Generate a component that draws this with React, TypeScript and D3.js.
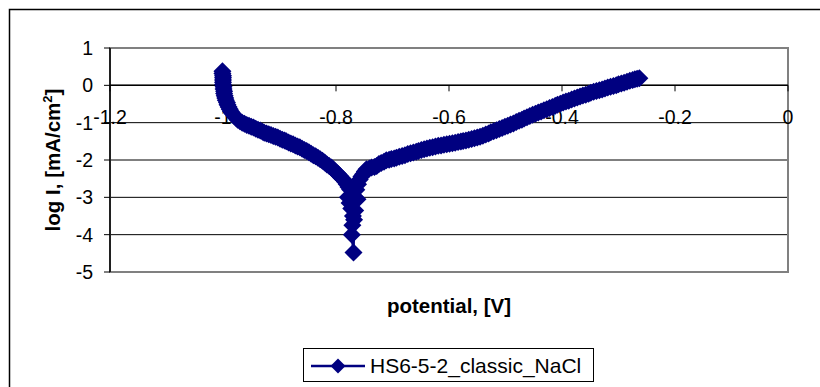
import React from "react";
import * as d3 from "d3";

// cathodic branch (scan from -1.0 V towards corrosion potential)
const cathodicE: number[] = [
  -1.001, -1.001, -1.0, -1.0, -1.0, -1.0, -1.0, -0.999, -0.999, -0.998,
  -0.998, -0.997, -0.996, -0.995, -0.993, -0.992, -0.99, -0.988, -0.986, -0.983,
  -0.98, -0.977, -0.974, -0.97, -0.966, -0.962, -0.958, -0.954, -0.95, -0.946,
  -0.942, -0.938, -0.934, -0.93, -0.927, -0.923, -0.919, -0.915, -0.911, -0.907,
  -0.903, -0.899, -0.895, -0.891, -0.888, -0.884, -0.88, -0.876, -0.872, -0.868,
  -0.864, -0.86, -0.856, -0.852, -0.848, -0.844, -0.84, -0.836, -0.832, -0.828,
  -0.824, -0.82, -0.816, -0.812, -0.808, -0.805, -0.802, -0.799, -0.796, -0.793,
  -0.79, -0.787, -0.784, -0.781, -0.778, -0.775,
];
const cathodicLogI: number[] = [
  0.38, 0.32, 0.26, 0.2, 0.14, 0.08, 0.02, -0.04, -0.1, -0.16,
  -0.22, -0.28, -0.34, -0.4, -0.46, -0.52, -0.58, -0.64, -0.7, -0.76,
  -0.82, -0.87, -0.92, -0.96, -1.0, -1.03, -1.06, -1.08, -1.11, -1.13,
  -1.16, -1.19, -1.21, -1.24, -1.27, -1.29, -1.31, -1.33, -1.36, -1.38,
  -1.4, -1.43, -1.46, -1.48, -1.5, -1.53, -1.56, -1.58, -1.61, -1.64,
  -1.66, -1.7, -1.73, -1.76, -1.79, -1.83, -1.87, -1.9, -1.94, -1.98,
  -2.02, -2.07, -2.12, -2.16, -2.2, -2.25, -2.3, -2.34, -2.38, -2.43,
  -2.48, -2.52, -2.58, -2.65, -2.72, -2.79,
];
// scatter around the corrosion potential
const bottomE: number[] = [-0.772, -0.779, -0.776, -0.771, -0.762, -0.766, -0.773, -0.77, -0.771, -0.772, -0.769];
const bottomLogI: number[] = [-2.95, -3.0, -3.15, -3.1, -3.05, -3.35, -3.3, -3.5, -3.75, -4.0, -4.48];
// anodic branch
const anodicE: number[] = [
  -0.768, -0.766, -0.764, -0.761, -0.758, -0.755, -0.752, -0.749, -0.746, -0.741,
  -0.737, -0.732, -0.728, -0.724, -0.72, -0.715, -0.711, -0.706, -0.702, -0.697,
  -0.693, -0.688, -0.683, -0.678, -0.673, -0.668, -0.663, -0.658, -0.654, -0.649,
  -0.644, -0.639, -0.634, -0.629, -0.624, -0.619, -0.614, -0.609, -0.604, -0.599,
  -0.594, -0.589, -0.584, -0.579, -0.575, -0.57, -0.565, -0.56, -0.555, -0.55,
  -0.545, -0.54, -0.535, -0.53, -0.526, -0.521, -0.516, -0.511, -0.506, -0.501,
  -0.496, -0.491, -0.486, -0.481, -0.476, -0.471, -0.467, -0.462, -0.457, -0.452,
  -0.447, -0.442, -0.437, -0.432, -0.427, -0.422, -0.417, -0.412, -0.408, -0.403,
  -0.398, -0.393, -0.388, -0.383, -0.378, -0.373, -0.368, -0.363, -0.358, -0.353,
  -0.349, -0.344, -0.339, -0.334, -0.329, -0.324, -0.319, -0.314, -0.309, -0.304,
  -0.3, -0.295, -0.29, -0.285, -0.28, -0.275, -0.271, -0.267, -0.263,
];
const anodicLogI: number[] = [
  -3.6, -3.0, -2.8, -2.65, -2.52, -2.44, -2.38, -2.31, -2.25, -2.23,
  -2.2, -2.19, -2.16, -2.11, -2.08, -2.05, -2.01, -1.99, -1.97, -1.96,
  -1.94, -1.91, -1.89, -1.87, -1.84, -1.82, -1.8, -1.78, -1.76, -1.73,
  -1.71, -1.69, -1.67, -1.66, -1.64, -1.62, -1.61, -1.59, -1.58, -1.565,
  -1.55, -1.535, -1.52, -1.505, -1.49, -1.475, -1.46, -1.44, -1.42, -1.4,
  -1.38, -1.35, -1.32, -1.29, -1.26, -1.23, -1.2, -1.17, -1.14, -1.11,
  -1.08, -1.05, -1.02, -0.985, -0.95, -0.92, -0.89, -0.855, -0.82, -0.79,
  -0.76, -0.73, -0.7, -0.67, -0.64, -0.61, -0.58, -0.55, -0.52, -0.49,
  -0.46, -0.435, -0.41, -0.38, -0.35, -0.325, -0.3, -0.275, -0.25, -0.225,
  -0.2, -0.175, -0.15, -0.13, -0.11, -0.085, -0.06, -0.04, -0.02, 0.005,
  0.03, 0.05, 0.07, 0.095, 0.12, 0.14, 0.16, 0.175, 0.19,
];

const xTicks: number[] = [-1.2, -1, -0.8, -0.6, -0.4, -0.2, 0];
const yTicks: number[] = [1, 0, -1, -2, -3, -4, -5];
const seriesName = "HS6-5-2_classic_NaCl";
const xTitle = "potential, [V]";

const NAVY = "#000080";
const FONT = "'Liberation Sans', Arial, sans-serif";
const diamond = "M0,-9L9,0L0,9L-9,0Z";
const legendDiamond = "M0,-7.5L7.5,0L0,7.5L-7.5,0Z";

export default function App() {
  const left = 110, right = 788, top = 48, bottom = 272;
  const x = d3.scaleLinear().domain([-1.2, 0]).range([left, right]);
  const y = d3.scaleLinear().domain([-5, 1]).range([bottom, top]);
  const E = [...cathodicE, ...bottomE, ...anodicE];
  const L = [...cathodicLogI, ...bottomLogI, ...anodicLogI];
  const pts = E.map((p, i) => [p, L[i]] as [number, number]);
  const line = d3
    .line<[number, number]>()
    .x((d) => x(d[0]))
    .y((d) => y(d[1]));
  const y0 = y(0);

  return (
    <svg
      width={820}
      height={387}
      style={{ position: "absolute", left: 0, top: 0, background: "#fff" }}
      fontFamily={FONT}
    >
      <rect x={0} y={0} width={820} height={387} fill="#fff" />
      <rect x={9.5} y={9.5} width={830} height={400} fill="none" stroke="#000" strokeWidth={1.5} />
      {yTicks.map((t) => (
        <line key={"g" + t} x1={left} x2={right} y1={y(t)} y2={y(t)} stroke="#000" strokeWidth={1} />
      ))}
      <rect x={left} y={top} width={right - left} height={bottom - top} fill="none" stroke="#808080" strokeWidth={2} />
      <line x1={left} x2={left} y1={top} y2={bottom} stroke="#000" strokeWidth={1.5} />
      {yTicks.map((t) => (
        <g key={"yt" + t}>
          <line x1={left - 6} x2={left} y1={y(t)} y2={y(t)} stroke="#000" strokeWidth={1} />
          <text x={93} y={y(t) + 7} textAnchor="end" fontSize={19.5}>
            {t}
          </text>
        </g>
      ))}
      <line x1={left} x2={right} y1={y0} y2={y0} stroke="#000" strokeWidth={1.5} />
      {xTicks.map((t) => (
        <g key={"xt" + t}>
          <line x1={x(t)} x2={x(t)} y1={y0} y2={y0 + 6} stroke="#000" strokeWidth={1} />
          <text x={x(t)} y={124} textAnchor="middle" fontSize={19.5}>
            {t}
          </text>
        </g>
      ))}
      <path d={line(pts) ?? ""} fill="none" stroke={NAVY} strokeWidth={2.5} />
      {pts.map((d, i) => (
        <path key={i} d={diamond} transform={`translate(${x(d[0])},${y(d[1])})`} fill={NAVY} />
      ))}
      <text x={449} y={313} textAnchor="middle" fontSize={20.5} fontWeight="bold">
        {xTitle}
      </text>
      <text transform="translate(60,160) rotate(-90)" textAnchor="middle" fontSize={20.5} fontWeight="bold">
        log I, [mA/cm<tspan fontSize={13} dy={-8}>2</tspan>
        <tspan dy={8}>]</tspan>
      </text>
      <rect x={303.5} y={348.5} width={290} height={33} fill="#fff" stroke="#000" strokeWidth={1} />
      <line x1={311} x2={365} y1={366} y2={366} stroke={NAVY} strokeWidth={2.5} />
      <path d={legendDiamond} transform="translate(338,366)" fill={NAVY} />
      <text x={370} y={373} fontSize={21}>
        {seriesName}
      </text>
    </svg>
  );
}
